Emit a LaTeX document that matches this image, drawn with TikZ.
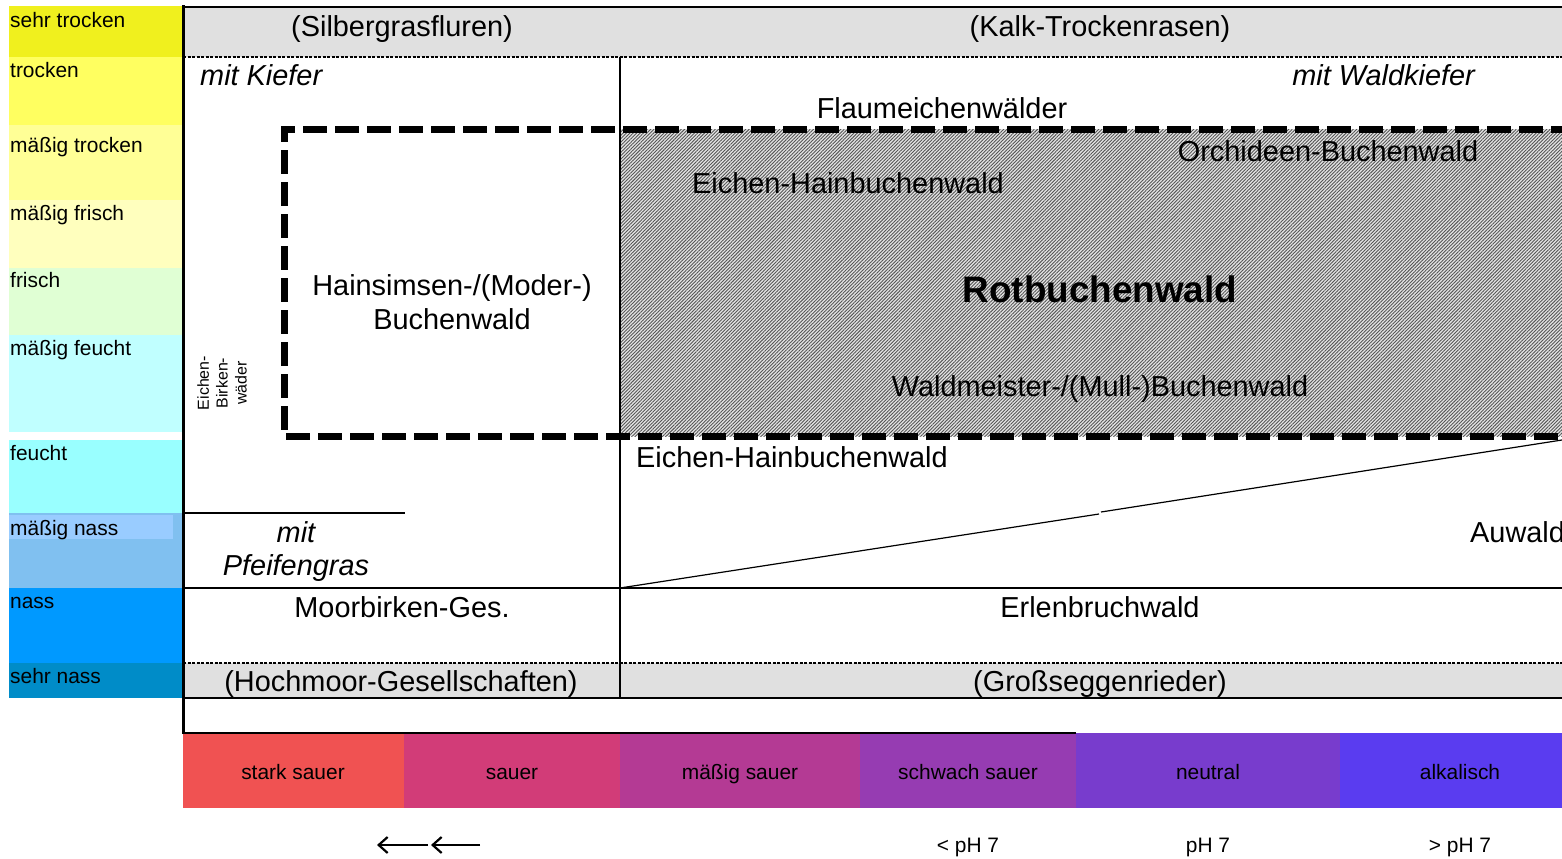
\documentclass[tikz,border=0pt]{standalone}
\usepackage{fontspec}
\setmainfont{Liberation Sans}
\usetikzlibrary{patterns.meta,arrows.meta}
\definecolor{cSehrTrocken}{RGB}{240,240,30}
\definecolor{cTrocken}{RGB}{255,255,96}
\definecolor{cMTrocken}{RGB}{255,255,150}
\definecolor{cMFrisch}{RGB}{255,255,190}
\definecolor{cFrisch}{RGB}{224,255,212}
\definecolor{cMFeucht}{RGB}{192,255,255}
\definecolor{cFeucht}{RGB}{153,255,255}
\definecolor{cMNass}{RGB}{128,192,240}
\definecolor{cMNassBox}{RGB}{153,204,255}
\definecolor{cNass}{RGB}{0,153,255}
\definecolor{cSehrNass}{RGB}{0,140,200}
\definecolor{cBand}{RGB}{224,224,224}
\definecolor{cHatchBg}{RGB}{228,228,228}
\definecolor{cHatch}{RGB}{85,85,85}
\definecolor{cStark}{RGB}{240,82,82}
\definecolor{cSauer}{RGB}{210,60,120}
\definecolor{cMSauer}{RGB}{180,58,148}
\definecolor{cSchwach}{RGB}{150,60,178}
\definecolor{cNeutral}{RGB}{120,60,205}
\definecolor{cAlk}{RGB}{90,60,240}
\begin{document}
\begin{tikzpicture}[x=1bp,y=-1bp,
  lbl/.style={anchor=base west, inner sep=0pt, font=\fontsize{21}{24}\selectfont},
  big/.style={anchor=base, inner sep=0pt, font=\fontsize{29}{34}\selectfont},
  bigit/.style={big, font=\fontsize{29}{34}\selectfont\itshape},
  barlbl/.style={anchor=base, inner sep=0pt, font=\fontsize{21}{24}\selectfont},
  phlbl/.style={anchor=base, inner sep=0pt, font=\fontsize{21}{24}\selectfont},
  frame/.style={line width=2bp},
  fine/.style={line width=1.5bp, dash pattern=on 3bp off 1.5bp},
  bigdash/.style={line width=7bp, dash pattern=on 24bp off 8bp},
  arr/.style={line width=2bp, -{Straight Barb[length=9bp,width=16bp,line width=2.2bp]}}]
\useasboundingbox (0,0) rectangle (1562,858);
\fill[white] (0,0) rectangle (1562,858);
% moisture bands
\fill[cSehrTrocken] (9,6) rectangle (183,57);
\fill[cTrocken] (9,57) rectangle (183,125);
\fill[cMTrocken] (9,125) rectangle (183,200);
\fill[cMFrisch] (9,200) rectangle (183,268);
\fill[cFrisch] (9,268) rectangle (183,335);
\fill[cMFeucht] (9,335) rectangle (183,432);
\fill[cFeucht] (9,440) rectangle (183,513);
\fill[cMNass] (9,513) rectangle (183,588);
\fill[cMNassBox] (9,515) rectangle (173,539);
\fill[cNass] (9,588) rectangle (183,663);
\fill[cSehrNass] (9,663) rectangle (183,698);
% gray bands
\fill[cBand] (183,7) rectangle (1562,57);
\fill[cBand] (183,663) rectangle (1562,698);
% hatched area
\fill[cHatchBg] (620,129) rectangle (1562,436);
\fill[pattern={Lines[angle=45,distance=2.4bp,line width=0.9bp]}, pattern color=cHatch] (620,129) rectangle (1562,436);
% pH bar
\fill[cStark] (183,733) rectangle (404,808);
\fill[cSauer] (404,733) rectangle (620,808);
\fill[cMSauer] (620,733) rectangle (860,808);
\fill[cSchwach] (860,733) rectangle (1076,808);
\fill[cNeutral] (1076,733) rectangle (1340,808);
\fill[cAlk] (1340,733) rectangle (1562,808);
% lines
\draw[frame] (183,7) -- (1562,7);
\draw[fine] (183,57) -- (1562,57);
\draw[fine] (183,663) -- (1562,663);
\draw[frame] (183,698) -- (1562,698);
\draw[frame] (183,588) -- (1562,588);
\draw[frame] (183,513) -- (405,513);
\draw[line width=2.5bp] (183,733) -- (1076,733);
\draw[line width=3bp] (183,5) -- (183,734);
\draw[frame] (620,57) -- (620,698);
\draw[line width=1.2bp] (620,588) -- (1099,514);
\draw[line width=1.2bp] (1101,512) -- (1562,440);
\draw[bigdash] (1575,129) -- (284,129) -- (284,436) -- (1575,436);
% left labels
\node[lbl] (l1) at (10,27) {sehr trocken};
\node[lbl] (l2) at (10,77) {trocken};
\node[lbl] (l3) at (10,152) {mäßig trocken};
\node[lbl] (l4) at (10,220) {mäßig frisch};
\node[lbl] (l5) at (10,287) {frisch};
\node[lbl] (l6) at (10,355) {mäßig feucht};
\node[lbl] (l7) at (10,460) {feucht};
\node[lbl] (l8) at (10,535) {mäßig nass};
\node[lbl] (l9) at (10,608) {nass};
\node[lbl] (l10) at (10,683) {sehr nass};
% main texts
\node[big] (silber) at (402,36) {(Silbergrasfluren)};
\node[big] (kalk) at (1100,36) {(Kalk-Trockenrasen)};
\node[bigit, anchor=base west] (kiefer) at (200,85) {mit Kiefer};
\node[bigit, anchor=base east] (waldkiefer) at (1475,85) {mit Waldkiefer};
\node[big] (flaum) at (942,118) {Flaumeichenwälder};
\node[big] (orch) at (1328,161) {Orchideen-Buchenwald};
\node[big] (eh1) at (848,193) {Eichen-Hainbuchenwald};
\node[big] (hain1) at (452,295) {Hainsimsen-/(Moder-)};
\node[big] (hain2) at (452,329) {Buchenwald};
\node[anchor=base, inner sep=0pt, font=\fontsize{37}{42}\selectfont\bfseries] (rot) at (1100,302) {Rotbuchenwald};
\node[big] (waldm) at (1100,396) {Waldmeister-/(Mull-)Buchenwald};
\node[big, anchor=base west] (eh2) at (636,467) {Eichen-Hainbuchenwald};
\node[big, anchor=base west] (auwald) at (1470,542) {Auwald};
\node[bigit] (mit) at (296,542) {mit};
\node[bigit] (pfeif) at (296,575) {Pfeifengras};
\node[big] (moor) at (402,617) {Moorbirken-Ges.};
\node[big] (erlen) at (1100,617) {Erlenbruchwald};
\node[big] (hoch) at (401,691) {(Hochmoor-Gesellschaften)};
\node[big] (gross) at (1100,691) {(Großseggenrieder)};
\node[rotate=90, align=center, inner sep=0pt, font=\fontsize{16}{19}\selectfont] (eb) at (222,383) {Eichen-\\Birken-\\wäder};
% pH labels
\node[barlbl] (b1) at (293,779) {stark sauer};
\node[barlbl] (b2) at (512,779) {sauer};
\node[barlbl] (b3) at (740,779) {mäßig sauer};
\node[barlbl] (b4) at (968,779) {schwach sauer};
\node[barlbl] (b5) at (1208,779) {neutral};
\node[barlbl] (b6) at (1460,779) {alkalisch};
\node[phlbl] (p1) at (968,852) {< pH 7};
\node[phlbl] (p2) at (1208,852) {pH 7};
\node[phlbl] (p3) at (1460,852) {> pH 7};
\coordinate (a1s) at (428,845);
\coordinate (a1e) at (377,845);
\coordinate (a2s) at (480,845);
\coordinate (a2e) at (431,845);
\draw[arr] (a1s) -- (a1e);
\draw[arr] (a2s) -- (a2e);
\end{tikzpicture}
\end{document}
